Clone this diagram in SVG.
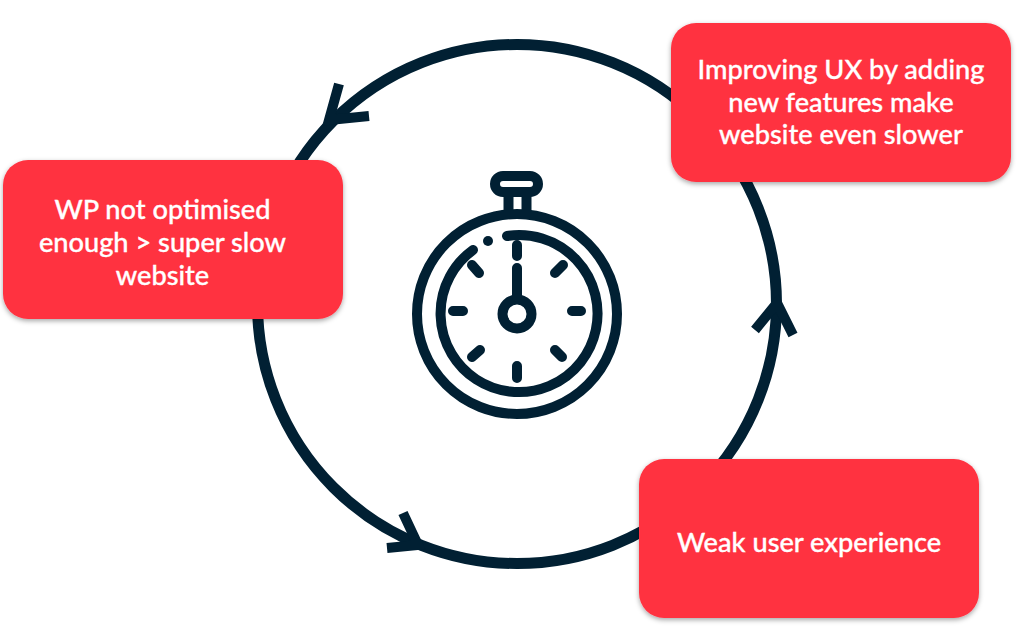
<svg xmlns="http://www.w3.org/2000/svg" width="1024" height="635" viewBox="0 0 1024 635">
<style>
.c{fill:none;stroke:#012033;stroke-width:10}
.r{stroke-linecap:round}
.b{fill:#ff3341;filter:url(#s)}
.t{font-family:Lato,"Liberation Sans",sans-serif;font-size:27.2px;font-weight:500;fill:#fff;stroke:#fff;stroke-width:.35;text-anchor:middle}
</style>
<defs><filter id="s" x="-10%" y="-15%" width="120%" height="130%"><feDropShadow dx="0" dy="2" stdDeviation="2.5" flood-color="#000" flood-opacity=".35"/></filter></defs>
<rect width="1024" height="635" fill="#fff"/>
<g id="connectors" class="c">
<circle cx="517" cy="304" r="259.500" stroke-width="11"/>
<path d="M339 84L329 120L369 116M755 330L777 303L793 335M403 513L418 545L387 548"/>
</g>
<g id="stopwatch" class="c">
<circle cx="517" cy="314" r="100"/>
<path class="r" d="M507 236A78.500 78.500 0 1 1 473 250"/>
<rect x="495" y="176" width="43" height="16" rx="8"/>
<path d="M508.500 196V211M526.500 196V211"/>
<circle cx="517" cy="314" r="14.500"/>
<path class="r" d="M517 297V268M517 245V256M517 366V378M453 311H463M572 311H581M472 265L479 273M563 265L555 273M472 357L480 350M562 357L555 350"/>
<circle cx="488" cy="241" r="5" fill="#012033" stroke="none"/>
</g>
<g id="node-ux"><rect class="b" x="671" y="23" width="340" height="159" rx="25"/>
<text class="t" x="841" y="78.500">Improving UX by adding</text><text class="t" x="841" y="111.500">new features make</text><text class="t" x="841" y="143.500">website even slower</text></g>
<g id="node-wp"><rect class="b" x="3" y="160" width="340" height="159" rx="25"/>
<text class="t" x="162.500" y="219">WP not optimised</text><text class="t" x="162.500" y="252">enough &gt; super slow</text><text class="t" x="162.500" y="285">website</text></g>
<g id="node-weak"><rect class="b" x="639" y="459" width="340" height="159" rx="25"/>
<text class="t" x="809" y="552">Weak user experience</text></g>
</svg>
